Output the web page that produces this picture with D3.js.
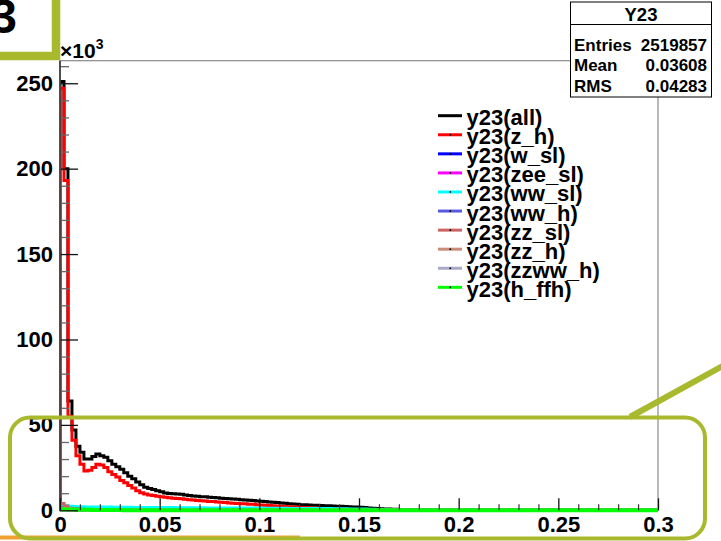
<!DOCTYPE html>
<html><head><meta charset="utf-8">
<script src="https://cdn.jsdelivr.net/npm/d3@7"></script>
<style>
html,body{margin:0;padding:0;background:#fff;}
svg{display:block;font-family:"Liberation Sans",Arial,Helvetica,sans-serif;font-weight:bold;}
</style></head>
<body><svg id="c" width="721" height="541"></svg>
<script>
// ---- data (thousands of entries per 0.002 bin) ----
const binWidth = 0.002;
const nBins = 150;
const seriesNames = ["y23(all)","y23(z_h)","y23(w_sl)","y23(zee_sl)","y23(ww_sl)","y23(ww_h)","y23(zz_sl)","y23(zz_h)","y23(zzww_h)","y23(h_ffh)"];
const seriesColors = ["#000000","#ff0000","#0000ff","#ff00ff","#00ffff","#5a5ade","#cc6464","#c88c78","#aaaac8","#00ff00"];
const allVals = [251,200,64,47,37.5,34,30,30,31.5,33,32,31,29,27,25.5,24,22,20,18.5,16.5,15,13.5,12.8,12.2,11.5,10.8,10.2,9.9,9.7,9.5,9.4,9.0,8.7,8.4,8.2,8.0,7.9,7.7,7.5,7.3,7.1,6.9,6.8,6.6,6.4,6.2,6.0,5.9,5.7,5.5,5.3,5.1,4.9,4.7,4.5,4.3,4.1,3.9,3.7,3.5,3.3,3.2,3.1,3.0,2.9,2.8,2.7,2.6,2.5,2.4,2.3,2.2,2.1,2.0,1.9,1.8,1.6,1.4,1.2,1.0,0.9,0.8,0.7,0.6,0.55,0.5,0.45,0.4,0.35,0.3,0.3,0.25,0.25,0.2,0.2,0.2,0.15,0.15,0.1,0.1,0.1,0.1,0.1,0.1,0.05];
const zhVals = [247,193,55,41,32,27,23,23.5,25,27,26.5,25,22.5,21,19.5,17.5,16.2,14.5,13,11.5,10.3,9.5,9.0,8.6,8.2,8.0,7.7,7.4,7.1,6.9,6.7,6.5,6.2,6.0,5.8,5.6,5.4,5.2,5.1,4.9,4.7,4.5,4.3,4.1,4.0,3.9,3.8,3.6,3.5,3.3,3.1,3.0,2.8,2.7,2.5,2.4,2.2,2.1,2.0,1.8,1.7,1.6,1.5,1.3,1.2,1.1,1.0,0.9,0.8,0.7,0.6,0.5,0.4,0.35,0.3,0.25,0.2,0.15,0.1,0.05];
const wslVals = [1.2,1.0,0.9,0.8,0.7,0.6,0.5,0.5,0.4,0.4,0.3,0.3,0.3,0.2,0.2,0.2,0.1,0.1];
const zeeslVals = [0.5,0.4,0.3,0.3,0.2,0.2,0.1,0.1];
const wwslVals = [3.2,2.6,2.3,2.2,2.1,2.1,2.0,2.0,2.0,1.9,1.9,1.9,1.9,1.8,1.8,1.8,1.8,1.8,1.7,1.7,1.7,1.7,1.7,1.6,1.6,1.6,1.6,1.6,1.6,1.5,1.5,1.5,1.5,1.5,1.5,1.5,1.4,1.4,1.4,1.4,1.4,1.4,1.4,1.3,1.3,1.3,1.3,1.3,1.3,1.3,1.2,1.2,1.2,1.2,1.2,1.2,1.2,1.1,1.1,1.1,1.1,1.1,1.1,1.0,1.0,1.0,1.0,1.0,0.9,0.9,0.9,0.9,0.8,0.8,0.8,0.7,0.7,0.6,0.6,0.5,0.4,0.3,0.2,0.15,0.1,0.05];
const wwhVals = [1.5,1.2,1.0,0.8,0.7,0.6,0.5,0.5,0.4,0.4,0.3,0.3,0.2,0.2,0.1];
const zzslVals = [4.0,2.5,1.2,0.8,0.6,0.5,0.4,0.4,0.3,0.3,0.3,0.2,0.2,0.1];
const zzhVals = [1.0,0.8,0.6,0.5,0.4,0.3,0.3,0.2,0.2,0.1];
const zzwwhVals = [0.8,0.6,0.5,0.4,0.3,0.3,0.2,0.2,0.1];
const hffhVals = [0.6,0.5,0.4,0.4,0.3,0.3,0.3,0.3,0.2,0.2,0.2,0.2,0.2,0.15,0.15,0.15,0.1,0.1,0.1,0.1];
const seriesVals = [allVals,zhVals,wslVals,zeeslVals,wwslVals,wwhVals,zzslVals,zzhVals,zzwwhVals,hffhVals];
const yMajorTicks = [0,50,100,150,200,250];
const yTickLabels = ["0","50","100","150","200","250"];
const xMajorTicks = [0,0.05,0.1,0.15,0.2,0.25,0.3];
const xTickLabels = ["0","0.05","0.1","0.15","0.2","0.25","0.3"];
const statsTitle = "Y23";
const statsRows = [["Entries","2519857"],["Mean","0.03608"],["RMS","0.04283"]];

// ---- drawing ----
const svg = d3.select("#c");
const L=60, R=658, T=60.7, B=510.3;
const x = d3.scaleLinear().domain([0,0.3]).range([L,R]);
const y = d3.scaleLinear().domain([0,263.2]).range([B,T]);
const olive = "#a9b92e";

svg.append("rect").attr("width",721).attr("height",541).attr("fill","#fff");

// frame
svg.append("rect").attr("x",L).attr("y",T).attr("width",R-L).attr("height",B-T)
  .attr("fill","none").attr("stroke","#8a8a8a").attr("stroke-width",1.2);

svg.append("defs").append("clipPath").attr("id","pc").append("rect")
  .attr("x",L).attr("y",T).attr("width",R-L).attr("height",B-T+4);

// histograms
const line = d3.line().x(d=>d[0]).y(d=>d[1]);
function histPts(vals){
  const pts=[[x(0),y(0)]];
  for(let i=0;i<nBins;i++){
    const v = i<vals.length?vals[i]:0;
    pts.push([x(i*binWidth),y(v)]);
    pts.push([x((i+1)*binWidth),y(v)]);
  }
  pts.push([x(nBins*binWidth),y(0)]);
  return pts;
}
const g = svg.append("g").attr("clip-path","url(#pc)");
seriesVals.forEach((vals,k)=>{
  g.append("path").attr("d",line(histPts(vals))).attr("fill","none")
   .attr("stroke",seriesColors[k]).attr("stroke-width",k===9?4:3)
   .attr("stroke-linejoin","miter");
});

// y axis
const yMinor = d3.range(0,263,10).filter(v=>v%50!==0);
svg.append("g").attr("transform",`translate(${L},0)`)
  .call(d3.axisRight(y).tickValues(yMinor).tickSize(9).tickFormat(""))
  .call(s=>{s.select(".domain").remove();s.selectAll("line").attr("stroke","#666").attr("stroke-width",1.3);});
svg.append("g").attr("transform",`translate(${L},0)`)
  .call(d3.axisRight(y).tickValues(yMajorTicks).tickSize(18).tickFormat(""))
  .call(s=>{s.select(".domain").remove();s.selectAll("line").attr("stroke","#111").attr("stroke-width",1.3);});
svg.append("g").attr("transform",`translate(${L},0)`)
  .call(d3.axisLeft(y).tickValues(yMajorTicks).tickSize(0).tickPadding(7).tickFormat((d,i)=>yTickLabels[i]))
  .call(s=>{s.select(".domain").remove();s.selectAll("text").attr("font-size",22).attr("font-weight","bold").attr("font-family","Liberation Sans, Arial, sans-serif").attr("fill","#000");});
svg.append("line").attr("x1",L).attr("x2",L).attr("y1",T).attr("y2",B+1).attr("stroke","#444").attr("stroke-width",1.8);

// x axis
const xMinor = d3.range(0,31).map(v=>v/100).filter((v,i)=>i%5!==0);
svg.append("g").attr("transform",`translate(0,${B})`)
  .call(d3.axisTop(x).tickValues(xMinor).tickSize(6).tickFormat(""))
  .call(s=>{s.select(".domain").remove();s.selectAll("line").attr("stroke","#333").attr("stroke-width",1.2);});
svg.append("g").attr("transform",`translate(0,${B})`)
  .call(d3.axisTop(x).tickValues(xMajorTicks).tickSize(12).tickFormat(""))
  .call(s=>{s.select(".domain").remove();s.selectAll("line").attr("stroke","#111").attr("stroke-width",1.3);});
svg.append("g").attr("transform",`translate(0,${B})`)
  .call(d3.axisBottom(x).tickValues(xMajorTicks).tickSize(0).tickPadding(6).tickFormat((d,i)=>xTickLabels[i]))
  .call(s=>{s.select(".domain").remove();s.selectAll("text").attr("font-size",22).attr("font-weight","bold").attr("font-family","Liberation Sans, Arial, sans-serif").attr("fill","#000");});

// x10^3
const ex = svg.append("text").attr("x",L).attr("y",58).attr("font-size",21).attr("fill","#000");
ex.append("tspan").text("×10");
ex.append("tspan").attr("font-size",14).attr("dy",-9).text("3");

// legend
const lg = svg.append("g");
seriesNames.forEach((nm,i)=>{
  const yy = 115.7 + 19.07*i;
  lg.append("line").attr("x1",438).attr("x2",462).attr("y1",yy).attr("y2",yy)
    .attr("stroke",seriesColors[i]).attr("stroke-width",3);
  if(i>0) lg.append("rect").attr("x",449.5).attr("y",yy-0.8).attr("width",1.6).attr("height",1.6).attr("fill","#000");
  lg.append("text").attr("x",466.5).attr("y",yy+9.5).attr("font-size",22).attr("fill","#000").text(nm);
});

// stats box
const sb = svg.append("g");
sb.append("rect").attr("x",570.5).attr("y",2).attr("width",141).attr("height",95)
  .attr("fill","#fff").attr("stroke","#000").attr("stroke-width",1);
sb.append("line").attr("x1",570.5).attr("x2",711.5).attr("y1",24.5).attr("y2",24.5).attr("stroke","#000");
sb.append("text").attr("x",641).attr("y",21).attr("text-anchor","middle").attr("font-size",18.5).text(statsTitle);
statsRows.forEach((r,i)=>{
  const yy = 50.5 + 20.6*i;
  sb.append("text").attr("x",574).attr("y",yy).attr("font-size",17).text(r[0]);
  sb.append("text").attr("x",707).attr("y",yy).attr("text-anchor","end").attr("font-size",17).text(r[1]);
});

// decorations (annotation overlays)
svg.append("rect").attr("x",-20).attr("y",-20).attr("width",76).attr("height",76)
  .attr("fill","none").attr("stroke",olive).attr("stroke-width",8.5);
svg.append("text").attr("x",17).attr("y",33).attr("text-anchor","end").attr("font-size",48).attr("fill","#000").text("3");
svg.append("rect").attr("x",0).attr("y",535.5).attr("width",300).attr("height",4).attr("fill","#f0a030");
svg.append("rect").attr("x",10).attr("y",417.5).attr("width",695).attr("height",121).attr("rx",20).attr("ry",20)
  .attr("fill","none").attr("stroke",olive).attr("stroke-width",4);
svg.append("line").attr("x1",630).attr("y1",417).attr("x2",740).attr("y2",356.5)
  .attr("stroke",olive).attr("stroke-width",6);
</script></body></html>
